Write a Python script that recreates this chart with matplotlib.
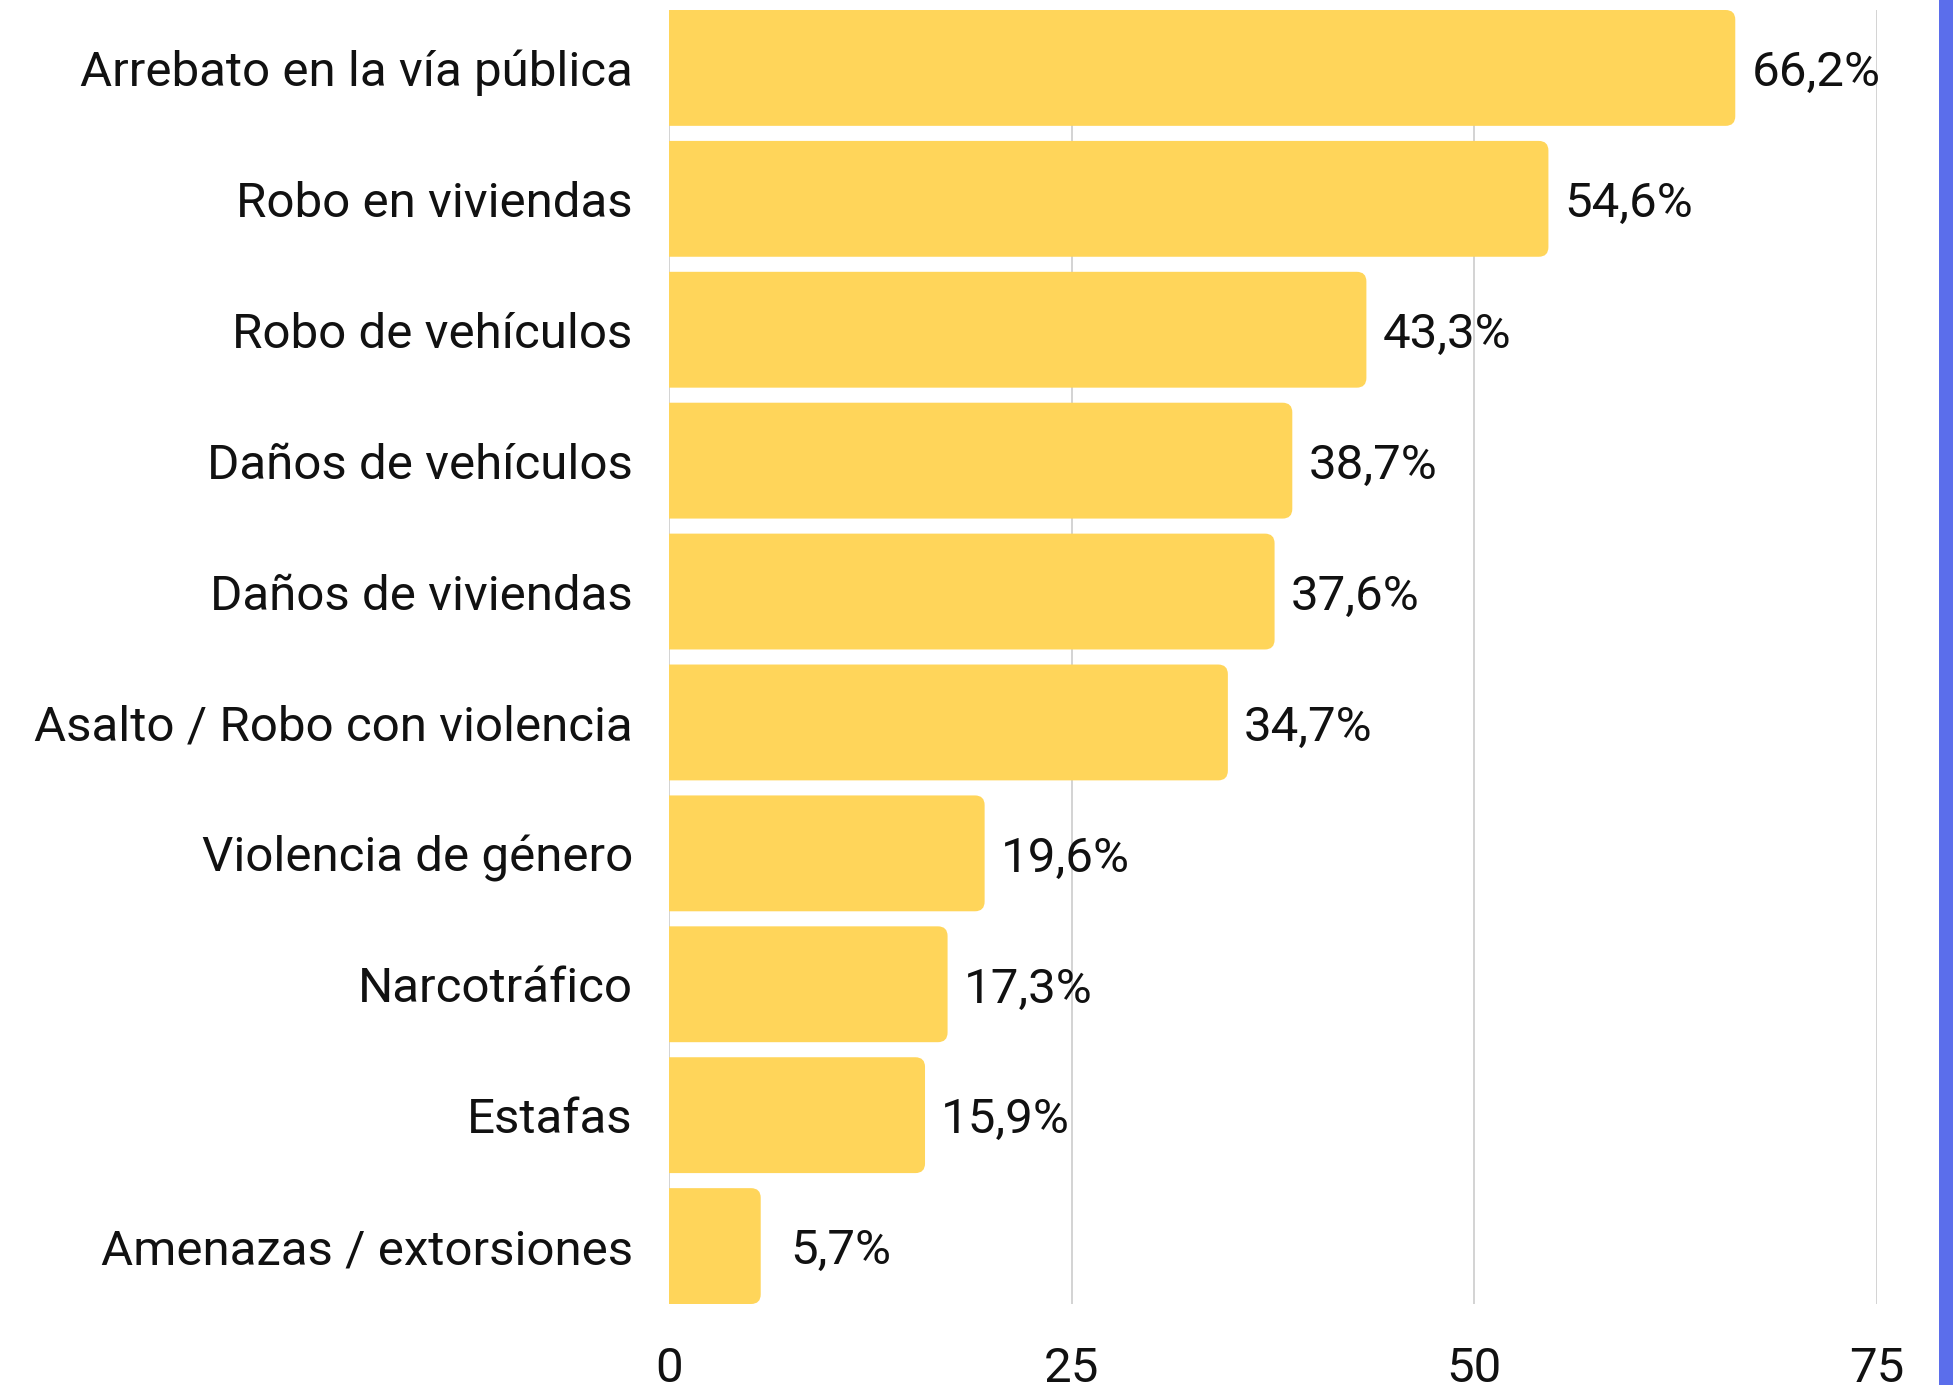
import matplotlib.pyplot as plt
from matplotlib.patches import FancyBboxPatch, Rectangle

categorias = ['Arrebato en la vía pública', 'Robo en viviendas', 'Robo de vehículos',
              'Daños de vehículos', 'Daños de viviendas', 'Asalto / Robo con violencia',
              'Violencia de género', 'Narcotráfico', 'Estafas', 'Amenazas / extorsiones']
valores = [66.2, 54.6, 43.3, 38.7, 37.6, 34.7, 19.6, 17.3, 15.9, 5.7]
etiquetas = ['66,2%', '54,6%', '43,3%', '38,7%', '37,6%', '34,7%', '19,6%', '17,3%', '15,9%', '5,7%']
xticks = [0, 25, 50, 75]

plt.rcParams['font.family'] = ['Roboto', 'DejaVu Sans']
fs = 35.5

fig = plt.figure(figsize=(19.53, 13.85), dpi=100)
ax = fig.add_axes([0.3425, 1 - 1304 / 1385, 0.9611 - 0.3425, (1304 - 10) / 1385])

alto = 0.885
m = (1 - alto) / 2
ypos = list(range(len(categorias)))
bars = ax.barh(ypos, valores, height=alto, color='#FFD55A', zorder=2)
ax.set_xlim(0, 75)
ax.set_ylim(len(categorias) - 0.5 - m, -0.5 + m)

# esquinas redondeadas a la derecha
pos = ax.get_position()
aspect = (pos.width * 1953 / 75) / (pos.height * 1385 / (len(categorias) - 2 * m))
for b in bars:
    x0, y0, w, h = b.get_x(), b.get_y(), b.get_width(), b.get_height()
    b.set_visible(False)
    p = FancyBboxPatch((x0 - 2, y0), w + 2, h,
                       boxstyle='round,pad=0,rounding_size=0.6',
                       mutation_aspect=aspect, fc='#FFD55A', ec='none', zorder=2)
    ax.add_patch(p)
    p.set_clip_path(ax.patch)

for i, v in enumerate(valores):
    ax.text(v + 5, i + 0.04, etiquetas[i], ha='center', va='center', fontsize=fs,
            color='#111111', zorder=3)

ax.set_yticks(ypos)
ax.set_yticklabels(categorias, fontsize=fs, color='#111111')
ax.set_xticks(xticks)
ax.set_xticklabels([str(t) for t in xticks], fontsize=fs, color='#111111')
ax.tick_params(axis='both', length=0)
ax.tick_params(axis='y', pad=26)
ax.tick_params(axis='x', pad=30)
ax.grid(axis='x', color='#cccccc', linewidth=1.2, zorder=0)
for s in ax.spines.values():
    s.set_visible(False)

# franja azul a la derecha
fig.patches.append(Rectangle((1939 / 1953, 0), 14 / 1953, 1, transform=fig.transFigure,
                             fc='#5B6EEB', ec='none', zorder=5))

plt.savefig('out.png', dpi=100)
